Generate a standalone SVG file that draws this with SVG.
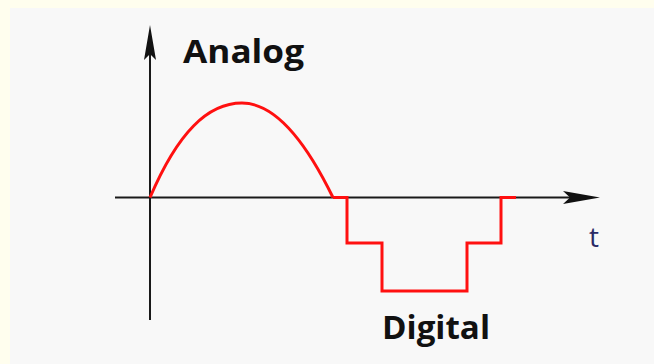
<svg xmlns="http://www.w3.org/2000/svg" width="654" height="364" viewBox="0 0 654 364">
<style>
.axis{stroke:#1a1a1a;stroke-width:2;fill:none}
.sig{stroke:#ff1010;stroke-width:3;fill:none;stroke-linejoin:miter}
.lbl{font-family:"Open Sans","Liberation Sans",sans-serif;font-weight:bold;fill:#111}
.t{font-family:"Open Sans","Liberation Sans",sans-serif;fill:#2a2a66}
.head{fill:#111}
</style>
<rect x="0" y="0" width="654" height="364" fill="#fffeee"/>
<rect x="10" y="8" width="644" height="356" fill="#f8f8f8"/>
<g id="axes">
<line class="axis" x1="150" y1="50" x2="150" y2="320"/>
<path class="head" d="M150,25 L156,60 L150,54 L144,60 Z"/>
<line class="axis" x1="115" y1="197.5" x2="580" y2="197.5"/>
<path class="head" d="M600,197.5 L563,191 L570,197.5 L563,204 Z"/>
</g>
<g id="analog">
<path class="sig" d="M150,197.5 C178,132 208,103 242,103 C275,103 305,140 333,197.5"/>
</g>
<g id="digital">
<path class="sig" d="M333,197.5 H347 V243 H382 V291 H467 V243 H501 V197.5 H516"/>
</g>
<g id="labels">
<text class="lbl" x="183" y="63" font-size="32" textLength="121" lengthAdjust="spacingAndGlyphs">Analog</text>
<text class="lbl" x="382" y="339" font-size="32" textLength="108" lengthAdjust="spacingAndGlyphs">Digital</text>
<text class="t" x="589" y="247" font-size="28">t</text>
</g>
</svg>
